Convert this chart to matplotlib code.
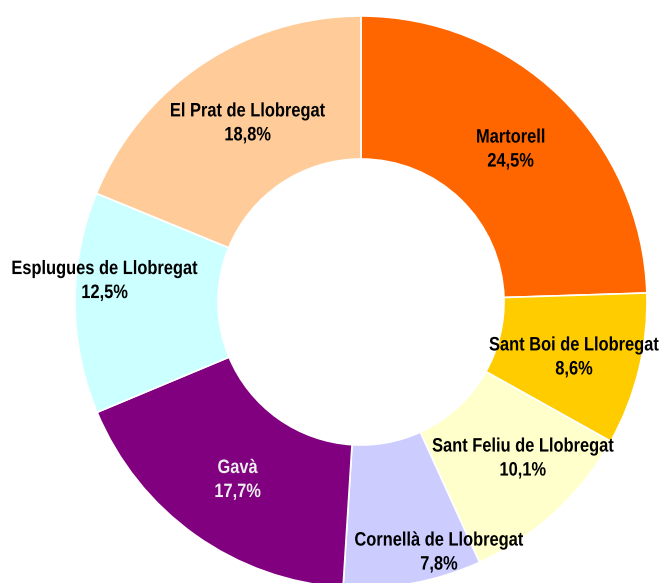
import numpy as np
import matplotlib
matplotlib.use('Agg')
import matplotlib.pyplot as plt
from matplotlib.textpath import TextPath
from matplotlib.patches import PathPatch
from matplotlib.font_manager import FontProperties
from matplotlib.transforms import Affine2D, IdentityTransform

# Data
municipis = ['Martorell', 'Sant Boi de Llobregat', 'Sant Feliu de Llobregat',
             'Cornellà de Llobregat', 'Gavà', 'Esplugues de Llobregat',
             'El Prat de Llobregat']
percentatges = [24.5, 8.6, 10.1, 7.8, 17.7, 12.5, 18.8]
colors = ['#FF6600', '#FFCC00', '#FFFFCC', '#CCCCFF', '#800080', '#CCFFFF', '#FFCC99']
text_colors = ['black', 'black', 'black', 'black', '#EEEEEE', 'black', 'black']

# label placement (radius factor, angle shift in deg) to mimic Excel layout
label_r = [0.752, 0.768, 0.783, 0.911, 0.751, 0.899, 0.745]
label_dang = [0, -0.4, 3.7, 7.0, 0.5, -5.3, -1.8]

W, H = 660, 583
DPI = 100
fig = plt.figure(figsize=(W / DPI, H / DPI), dpi=DPI)

# centre of donut at (361, 302) px, outer radius 286 px
cx, cy, R = 361, 302, 286
ax = fig.add_axes([(cx - R) / W, (H - cy - R) / H, 2 * R / W, 2 * R / H])
ax.axis('off')

wedges, _ = ax.pie(percentatges, colors=colors, startangle=90, counterclock=False,
                   radius=1.0, wedgeprops=dict(width=0.5, edgecolor='white', linewidth=1.2))
ax.set_xlim(-1, 1)
ax.set_ylim(-1, 1)

# narrow bold font emulated: Liberation Sans Bold squeezed horizontally
fp = FontProperties(family='Liberation Sans', weight='bold')
fsize = 14 * DPI / 72.0   # px
squeeze = 0.845
cap = 0.72 * fsize
gap = 24                  # px between baselines


def narrow_line(s, xc, yb, color):
    tp = TextPath((0, 0), s, size=fsize, prop=fp)
    ext = tp.get_extents()
    w = (ext.x0 + ext.x1) / 2.0
    tr = Affine2D().translate(-w, 0).scale(squeeze, 1).translate(xc, yb)
    patch = PathPatch(tr.transform_path(tp), facecolor=color, edgecolor='none',
                      transform=IdentityTransform())
    fig.patches.append(patch)


for w, name, p, r, da, tc in zip(wedges, municipis, percentatges, label_r, label_dang, text_colors):
    ang = np.deg2rad((w.theta1 + w.theta2) / 2 + da)
    x, y = r * np.cos(ang), r * np.sin(ang)
    px, py = ax.transData.transform((x, y))
    top = py + (cap + gap) / 2.0
    narrow_line(name, px, top - cap, tc)
    narrow_line(('%.1f%%' % p).replace('.', ','), px, top - cap - gap, tc)

fig.savefig('out.png', dpi=DPI)
